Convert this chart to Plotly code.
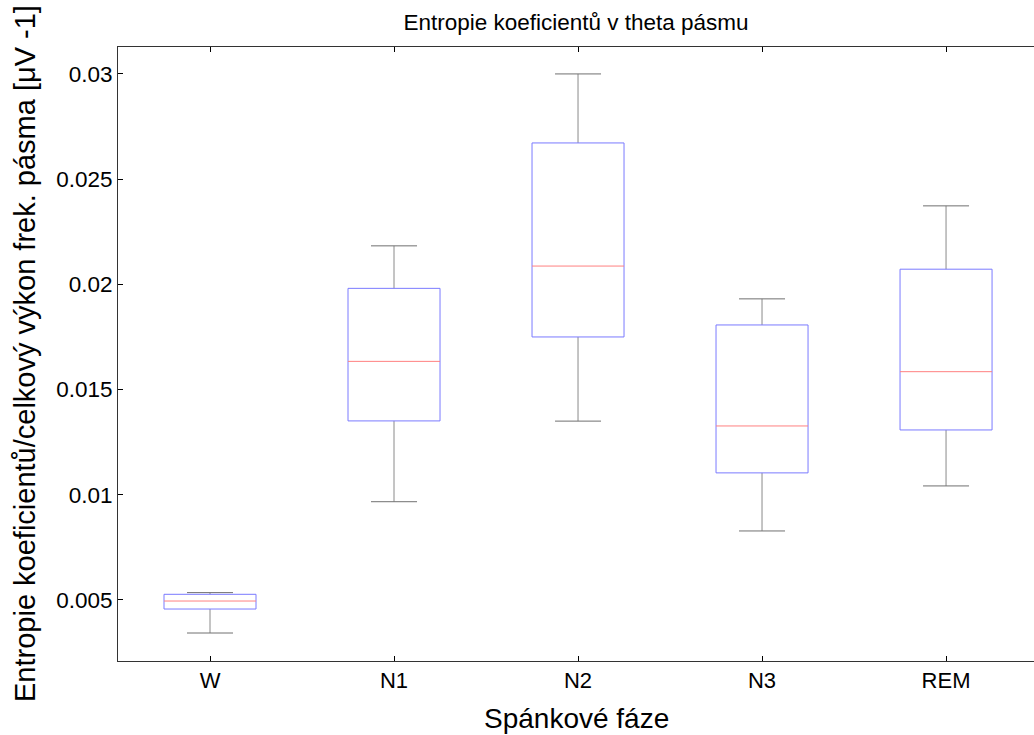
import plotly.graph_objects as go

categories = ["W", "N1", "N2", "N3", "REM"]
lower_whisker = [0.00343, 0.00967, 0.01350, 0.00828, 0.01042]
q1 = [0.00457, 0.01351, 0.01750, 0.01104, 0.01308]
median = [0.00495, 0.01634, 0.02087, 0.01327, 0.01585]
q3 = [0.00527, 0.01981, 0.02672, 0.01807, 0.02072]
upper_whisker = [0.00535, 0.02183, 0.03000, 0.01931, 0.02373]

title_text = "Entropie koeficientů v theta pásmu"
x_title = "Spánkové fáze"
y_title = "Entropie koeficientů/celkový výkon frek. pásma [μV -1]"
y_ticks = [0.005, 0.01, 0.015, 0.02, 0.025, 0.03]

box_half = 0.25
cap_half = 0.125
positions = list(range(1, len(categories) + 1))

wx, wy = [], []
cx, cy = [], []
bx, by = [], []
mx, my = [], []
for p, lo, a, m, b, hi in zip(positions, lower_whisker, q1, median, q3, upper_whisker):
    wx += [p, p, None, p, p, None]
    wy += [b, hi, None, a, lo, None]
    cx += [p - cap_half, p + cap_half, None, p - cap_half, p + cap_half, None]
    cy += [hi, hi, None, lo, lo, None]
    bx += [p - box_half, p + box_half, p + box_half, p - box_half, p - box_half, None]
    by += [a, a, b, b, a, None]
    mx += [p - box_half, p + box_half, None]
    my += [m, m, None]

fig = go.Figure()
fig.add_trace(go.Scatter(x=wx, y=wy, mode="lines", line=dict(color="#8a8a8a", width=1),
                         hoverinfo="skip", showlegend=False))
fig.add_trace(go.Scatter(x=cx, y=cy, mode="lines", line=dict(color="#707070", width=1),
                         hoverinfo="skip", showlegend=False))
fig.add_trace(go.Scatter(x=bx, y=by, mode="lines", line=dict(color="#7a7aff", width=1),
                         hoverinfo="skip", showlegend=False))
fig.add_trace(go.Scatter(x=mx, y=my, mode="lines", line=dict(color="#ff8080", width=1),
                         hoverinfo="skip", showlegend=False))

font_family = "Arial, Liberation Sans, sans-serif"
y_range = [0.0021, 0.03128]

fig.update_layout(
    width=1034, height=735,
    margin=dict(l=118, r=0, t=47, b=74),
    paper_bgcolor="white", plot_bgcolor="white",
    font=dict(family=font_family, color="black"),
    title=dict(text=title_text, x=0.5, xref="paper", xanchor="center",
               y=1 - 22 / 735, yref="container", yanchor="middle",
               font=dict(size=22.5, family=font_family, color="black")),
    xaxis=dict(range=[0.5, 5.478], tickmode="array", tickvals=positions, ticktext=categories,
               ticks="inside", ticklen=5, tickcolor="black", showline=True, linecolor="#333333",
               linewidth=1, mirror="ticks", showgrid=False, zeroline=False,
               tickfont=dict(size=22, family=font_family, color="black")),
    yaxis=dict(range=y_range, tickmode="array", tickvals=y_ticks,
               ticktext=[f"{v:g}" for v in y_ticks],
               ticks="inside", ticklen=5, tickcolor="black", showline=True, linecolor="#333333",
               linewidth=1, mirror=False, showgrid=False, zeroline=False,
               tickfont=dict(size=22.5, family=font_family, color="black")),
    yaxis2=dict(range=y_range, overlaying="y", side="right", tickmode="array",
                tickvals=y_ticks, ticks="inside", ticklen=5, tickcolor="black",
                showticklabels=False, showline=False, showgrid=False, zeroline=False),
    annotations=[
        dict(text=x_title, xref="paper", yref="paper", x=0.5, y=-(718 - 661) / 614,
             xanchor="center", yanchor="middle", showarrow=False,
             font=dict(size=28, family=font_family, color="black")),
        dict(text=y_title, xref="paper", yref="paper", x=(25 - 118) / 916, y=0.5,
             xanchor="center", yanchor="middle", textangle=-90, showarrow=False,
             font=dict(size=29, family=font_family, color="black")),
    ],
)

fig.write_html("out.html", config={"displayModeBar": False},
               post_script="document.body.style.margin='0';")
